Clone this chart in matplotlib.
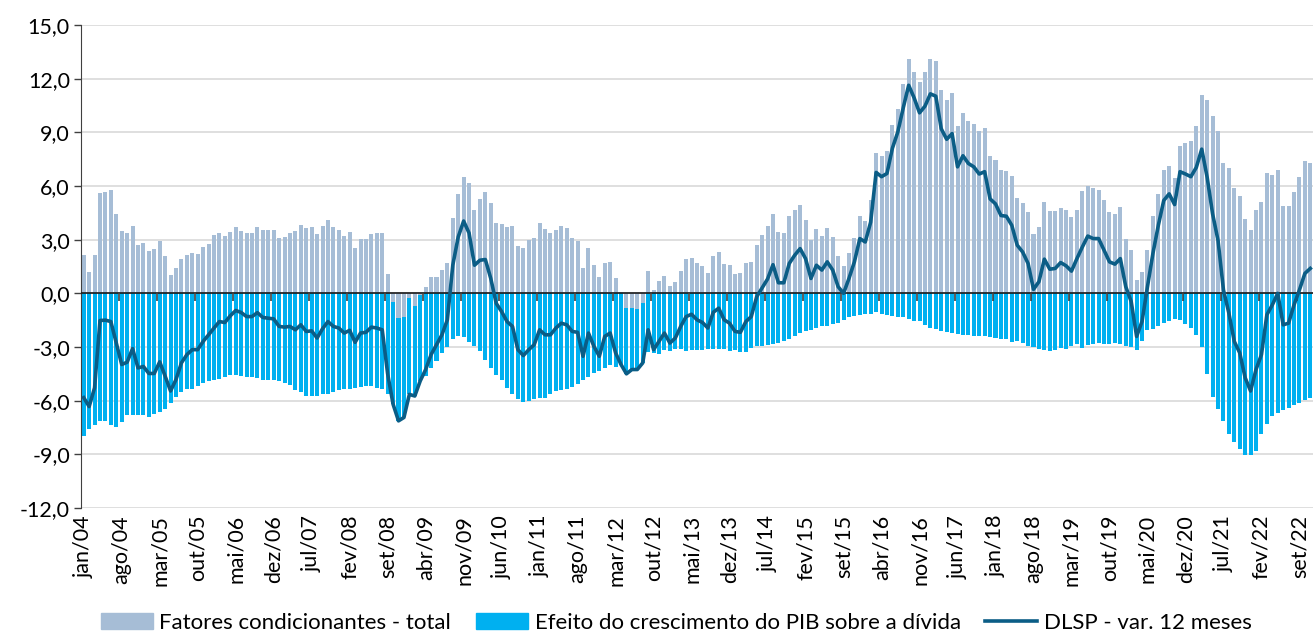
import numpy as np
import matplotlib
matplotlib.use("Agg")
import matplotlib.pyplot as plt
from matplotlib.patches import Patch
from matplotlib.lines import Line2D

plt.rcParams['font.family'] = ['Lato', 'DejaVu Sans']

# monthly series, jan/04 .. nov/22 (% do PIB)
fatores = [
    2.17, 1.17, 2.13, 5.6, 5.67, 5.8, 4.44, 3.5, 3.35, 3.74, 2.68, 2.79,
    2.35, 2.46, 2.9, 2.09, 1.02, 1.42, 1.9, 2.13, 2.24, 2.2, 2.59, 2.76,
    3.24, 3.39, 3.2, 3.44, 3.7, 3.48, 3.39, 3.37, 3.68, 3.52, 3.52, 3.52,
    3.11, 3.15, 3.35, 3.46, 3.81, 3.65, 3.72, 3.3, 3.76, 4.11, 3.68, 3.56,
    3.2, 3.41, 2.53, 3.06, 3.02, 3.33, 3.37, 3.37, 1.09, -0.5, -1.39, -1.33,
    -0.24, -0.7, -0.1, 0.37, 0.89, 0.93, 1.3, 1.67, 4.22, 5.56, 6.48, 6.15,
    4.67, 5.28, 5.67, 5.06, 3.92, 3.85, 3.68, 3.79, 2.63, 2.56, 2.96, 3.11,
    3.94, 3.61, 3.37, 3.52, 3.79, 3.67, 3.11, 2.92, 1.39, 2.53, 1.56, 0.89,
    1.7, 1.76, 0.83, 0.05, -0.83, -0.83, -0.89, -0.56, 1.26, 0.18, 0.68, 0.96,
    0.42, 0.61, 1.24, 1.91, 1.98, 1.67, 1.52, 1.15, 2.07, 2.29, 1.63, 1.57,
    1.06, 1.11, 1.7, 1.76, 2.68, 3.28, 3.74, 4.44, 3.43, 3.39, 4.3, 4.63,
    4.91, 4.11, 2.96, 3.61, 3.19, 3.65, 3.15, 2.09, 1.52, 2.28, 3.09, 4.31,
    4.02, 5.22, 7.83, 7.69, 7.96, 9.41, 10.28, 11.7, 13.1, 12.37, 11.8, 12.35,
    13.1, 13.0, 11.39, 10.78, 11.2, 9.35, 10.09, 9.63, 9.44, 9.07, 9.26, 7.65,
    7.46, 6.89, 6.85, 6.54, 5.31, 5.06, 4.54, 3.3, 3.7, 5.13, 4.59, 4.59,
    4.76, 4.67, 4.26, 4.67, 5.7, 6.02, 5.87, 5.78, 5.19, 4.54, 4.41, 4.85,
    3.06, 2.44, 0.74, 1.17, 2.44, 4.35, 5.56, 6.89, 7.11, 6.43, 8.24, 8.43,
    8.52, 9.35, 11.07, 10.83, 9.91, 9.07, 7.31, 6.98, 5.87, 5.46, 4.17, 3.52,
    4.63, 5.09, 6.7, 6.61, 6.91, 4.87, 4.87, 5.69, 6.48, 7.41, 7.28,
]

efeito_pib = [
    -7.97, -7.56, -7.34, -7.11, -7.15, -7.37, -7.46, -7.17, -6.8, -6.8, -6.8, -6.8,
    -6.91, -6.72, -6.61, -6.44, -6.11, -5.8, -5.52, -5.37, -5.37, -5.19, -5.0, -4.91,
    -4.82, -4.78, -4.67, -4.56, -4.56, -4.63, -4.69, -4.7, -4.72, -4.82, -4.87, -4.87,
    -4.91, -5.0, -5.15, -5.41, -5.52, -5.74, -5.74, -5.74, -5.65, -5.61, -5.52, -5.43,
    -5.37, -5.37, -5.28, -5.24, -5.19, -5.19, -5.3, -5.33, -5.65, -5.7, -5.74, -5.61,
    -5.41, -5.04, -4.8, -4.63, -4.17, -3.8, -3.33, -3.0, -2.56, -2.41, -2.44, -2.74,
    -2.96, -3.24, -3.74, -4.17, -4.54, -4.85, -5.28, -5.65, -5.93, -6.06, -6.02, -5.93,
    -5.83, -5.83, -5.65, -5.46, -5.43, -5.37, -5.22, -5.06, -4.82, -4.69, -4.48, -4.35,
    -4.15, -4.0, -4.1, -4.0, -3.67, -3.43, -3.37, -3.33, -3.3, -3.33, -3.37, -3.18,
    -3.2, -3.11, -3.09, -3.21, -3.15, -3.15, -3.15, -3.09, -3.13, -3.12, -3.11, -3.24,
    -3.19, -3.29, -3.28, -3.06, -2.95, -2.96, -2.89, -2.81, -2.78, -2.65, -2.56, -2.37,
    -2.22, -2.13, -2.07, -1.94, -1.85, -1.81, -1.72, -1.67, -1.48, -1.33, -1.26, -1.2,
    -1.15, -1.15, -1.06, -1.15, -1.2, -1.26, -1.3, -1.35, -1.44, -1.52, -1.57, -1.76,
    -1.94, -2.0, -2.13, -2.19, -2.22, -2.26, -2.31, -2.31, -2.37, -2.37, -2.41, -2.44,
    -2.5, -2.54, -2.56, -2.74, -2.65, -2.78, -2.93, -3.0, -3.11, -3.19, -3.2, -3.15,
    -3.06, -3.09, -2.96, -2.81, -3.06, -2.87, -2.83, -2.78, -2.83, -2.81, -2.78, -2.83,
    -2.93, -3.0, -3.15, -2.69, -2.04, -2.0, -1.81, -1.67, -1.57, -1.44, -1.48, -1.72,
    -1.94, -2.31, -3.0, -4.5, -5.78, -6.48, -7.13, -7.87, -8.3, -8.7, -9.04, -9.04,
    -8.8, -7.87, -7.31, -6.85, -6.7, -6.52, -6.39, -6.26, -6.11, -5.96, -5.83,
]

dlsp = [
    -5.83, -6.33, -5.28, -1.52, -1.5, -1.58, -2.78, -3.98, -3.85, -3.09, -4.17, -4.09,
    -4.48, -4.48, -3.83, -4.63, -5.46, -4.82, -3.89, -3.43, -3.15, -3.15, -2.69, -2.32,
    -1.94, -1.58, -1.63, -1.26, -0.96, -1.07, -1.3, -1.3, -1.08, -1.35, -1.39, -1.43,
    -1.85, -1.89, -1.85, -2.04, -1.76, -2.13, -2.1, -2.5, -1.98, -1.58, -1.85, -1.94,
    -2.22, -2.07, -2.74, -2.22, -2.18, -1.89, -1.94, -2.04, -4.5, -6.2, -7.13, -6.94,
    -5.65, -5.74, -4.9, -4.26, -3.43, -2.87, -2.32, -1.48, 1.57, 3.15, 4.04, 3.37,
    1.57, 1.85, 1.89, 0.83, -0.56, -1.02, -1.58, -1.85, -3.15, -3.48, -3.15, -2.87,
    -2.04, -2.32, -2.32, -1.94, -1.67, -1.76, -2.13, -2.18, -3.52, -2.22, -2.96, -3.52,
    -2.41, -2.22, -3.33, -3.98, -4.5, -4.26, -4.26, -3.89, -2.04, -3.15, -2.69, -2.22,
    -2.78, -2.5, -1.85, -1.3, -1.17, -1.48, -1.63, -1.94, -1.06, -0.83, -1.48, -1.67,
    -2.13, -2.18, -1.58, -1.3, -0.19, 0.3, 0.8, 1.6, 0.59, 0.59, 1.67, 2.13,
    2.5, 1.94, 0.83, 1.57, 1.3, 1.76, 1.3, 0.37, 0.0, 0.83, 1.76, 3.06,
    2.87, 3.98, 6.76, 6.52, 6.7, 8.11, 9.02, 10.37, 11.63, 10.93, 10.09, 10.46,
    11.15, 11.02, 9.2, 8.61, 8.93, 7.07, 7.69, 7.26, 7.07, 6.67, 6.8, 5.28,
    5.0, 4.35, 4.31, 3.8, 2.69, 2.31, 1.67, 0.22, 0.65, 1.91, 1.35, 1.39,
    1.72, 1.54, 1.24, 1.94, 2.59, 3.2, 3.06, 3.06, 2.41, 1.76, 1.63, 1.94,
    0.37, -0.46, -2.41, -1.57, 0.37, 2.22, 3.8, 5.19, 5.56, 4.96, 6.8, 6.67,
    6.52, 7.04, 8.06, 6.48, 4.44, 2.96, 0.19, -1.11, -2.69, -3.33, -4.72, -5.46,
    -4.26, -3.43, -1.2, -0.65, 0.0, -1.76, -1.67, -0.65, 0.19, 1.11, 1.39,
]

tick_labels = ['jan/04', 'ago/04', 'mar/05', 'out/05', 'mai/06', 'dez/06', 'jul/07',
               'fev/08', 'set/08', 'abr/09', 'nov/09', 'jun/10', 'jan/11', 'ago/11',
               'mar/12', 'out/12', 'mai/13', 'dez/13', 'jul/14', 'fev/15', 'set/15',
               'abr/16', 'nov/16', 'jun/17', 'jan/18', 'ago/18', 'mar/19', 'out/19',
               'mai/20', 'dez/20', 'jul/21', 'fev/22', 'set/22']

c_fat = '#A6BDD6'
c_pib = '#00B0F0'
c_line = '#0B5D86'

x = np.arange(len(fatores))
fat = np.array(fatores)
pib = np.array(efeito_pib)

fig = plt.figure(figsize=(13.13, 6.44), dpi=100)
ax = fig.add_axes([0.0617, 0.2112, 0.9383, 0.7500])

# stacked columns (Excel style: negatives stack on negatives)
ax.bar(x, fat, width=0.74, color=c_fat, zorder=2)
ax.bar(x, pib, width=0.74, bottom=np.minimum(fat, 0), color=c_pib, zorder=2)
ax.plot(x, dlsp, color=c_line, lw=2.6, zorder=5, solid_joinstyle='round')

yt = np.arange(-12, 16, 3)
ax.set_ylim(-12, 15)
ax.set_yticks(yt)
ax.set_yticklabels([f'{v:.1f}'.replace('.', ',') for v in yt], fontsize=15.5)
ax.yaxis.grid(True, color='#D9D9D9', lw=1.2, zorder=0)
ax.axhline(0, color='#1a1a1a', lw=1.2, zorder=3)
ax.tick_params(axis='y', direction='out', length=5, width=1, color='#404040', pad=3)

ax.set_xlim(-0.5, len(fatores) - 0.5)
ax.set_xticks(x[::7])
ax.set_xticklabels(tick_labels, rotation=90, fontsize=15.5)
ax.tick_params(axis='x', length=0, pad=5)

for s in ['top', 'right', 'bottom']:
    ax.spines[s].set_visible(False)
ax.spines['left'].set_color('#404040')

# category axis ticks drawn on the zero line
sec = ax.secondary_xaxis(12 / 27)
sec.set_zorder(4)
sec.set_xticks(x[7::7] - 0.5)
sec.tick_params(axis='x', direction='out', length=6, width=1.2, color='#404040',
                labelbottom=False, labeltop=False)
sec.spines['bottom'].set_visible(False)
sec.spines['top'].set_visible(False)

handles = [Patch(color=c_fat), Patch(color=c_pib), Line2D([0], [0], color=c_line, lw=2.6)]
labels = ['Fatores condicionantes - total', 'Efeito do crescimento do PIB sobre a dívida',
          'DLSP - var. 12 meses']
fig.legend(handles, labels, loc='lower center', bbox_to_anchor=(0.515, -0.014), ncol=3,
           frameon=False, fontsize=16, handlelength=2.35, handleheight=0.75,
           columnspacing=1.1, handletextpad=0.3)

fig.savefig('out.png', dpi=100)
